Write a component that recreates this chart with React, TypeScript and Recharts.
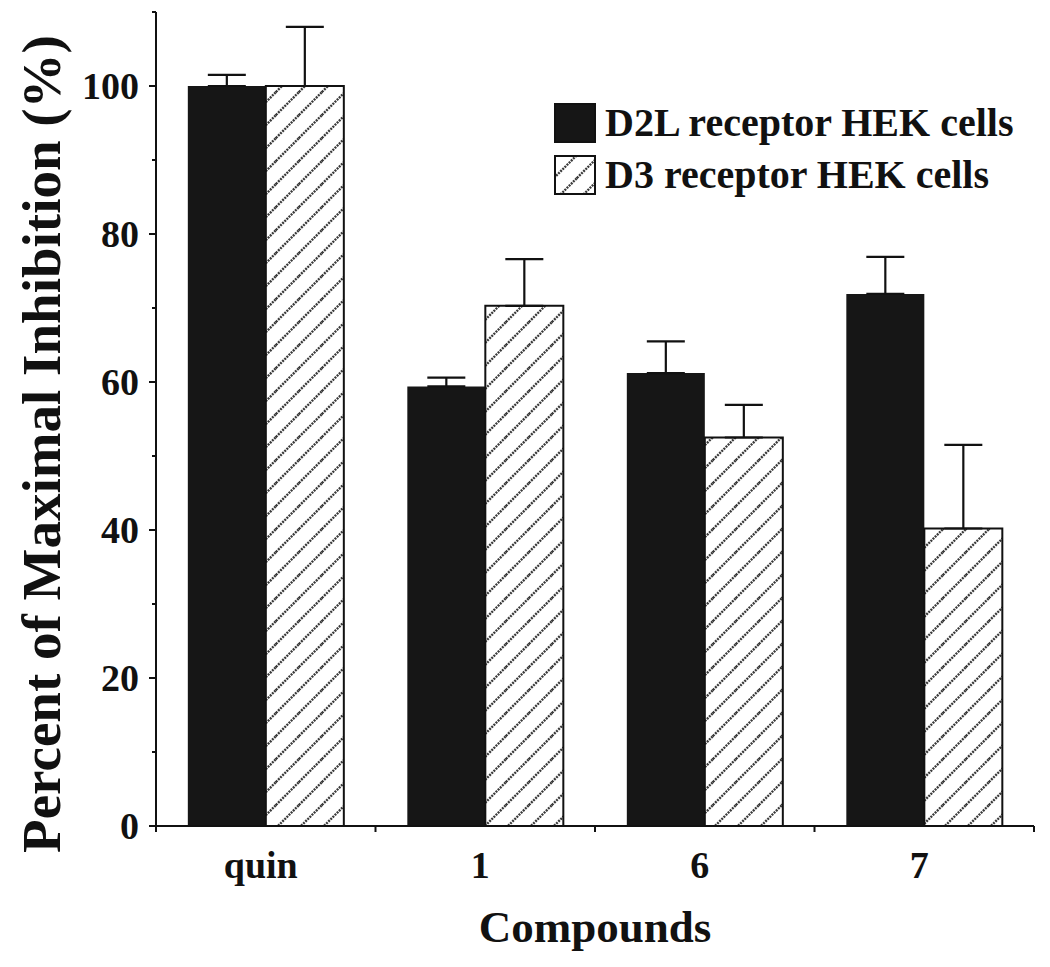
import React from 'react';
import { BarChart, Bar, XAxis, YAxis, ErrorBar } from 'recharts';

const categories = ['quin', '1', '6', '7'];
const d2lValues = [100, 59.4, 61.2, 71.9];
const d2lErrors = [1.5, 1.2, 4.3, 5.0];
const d3Values = [100, 70.3, 52.5, 40.2];
const d3Errors = [8.0, 6.3, 4.4, 11.3];
const seriesNames = ['D2L receptor HEK cells', 'D3 receptor HEK cells'];
const yTicks = [0, 10, 20, 30, 40, 50, 60, 70, 80, 90, 100, 110];

const data = categories.map((c, i) => ({
  name: c,
  d2l: d2lValues[i],
  d2lErr: [0, d2lErrors[i]],
  d3: d3Values[i],
  d3Err: [0, d3Errors[i]],
}));

const FONT = '"Liberation Serif", "Times New Roman", serif';
const BLACK = '#161616';

const YTick = (props: any) => {
  const { x, y, payload } = props;
  const v = payload.value;
  const major = v % 20 === 0;
  const len = major ? 7 : 4;
  return (
    <g>
      <line x1={x - len} y1={y} x2={x} y2={y} stroke="#111" strokeWidth={2} />
      {major && (
        <text x={x - 17} y={y} dy="0.35em" textAnchor="end" fontFamily={FONT} fontWeight="bold" fontSize={38} fill="#111">
          {v}
        </text>
      )}
    </g>
  );
};

const XTick = (props: any) => {
  const { x, y, payload, index } = props;
  const off = payload && typeof payload.offset === 'number' && payload.offset > 0 ? payload.offset : 878 / categories.length / 2;
  return (
    <g>
      <line x1={x - off} y1={y} x2={x - off} y2={y + 6} stroke="#111" strokeWidth={2} />
      {index === categories.length - 1 && (
        <line x1={x + off} y1={y} x2={x + off} y2={y + 6} stroke="#111" strokeWidth={2} />
      )}
      <text x={x - 5} y={y + 52} textAnchor="middle" fontFamily={FONT} fontWeight="bold" fontSize={38} fill="#111">
        {payload.value}
      </text>
    </g>
  );
};

const LegendBox = () => (
  <div style={{ position: 'absolute', left: 554, top: 97, fontFamily: FONT, fontWeight: 'bold', fontSize: 40, color: '#111', lineHeight: '52px' }}>
    {seriesNames.map((n, i) => (
      <div key={n} style={{ display: 'flex', alignItems: 'center', height: 52, whiteSpace: 'nowrap' }}>
        <svg width={42} height={40} style={{ marginRight: 9 }}>
          <rect x={1} y={1} width={40} height={38} fill={i === 0 ? BLACK : 'url(#hatch)'} stroke="#111" strokeWidth={2} />
        </svg>
        <span>{n}</span>
      </div>
    ))}
  </div>
);

export default function App() {
  return (
    <div style={{ position: 'absolute', left: 0, top: 0, width: 1050, height: 967, background: '#fff' }}>
      <svg width={0} height={0} style={{ position: 'absolute' }}>
        <defs>
          <pattern id="hatch" patternUnits="userSpaceOnUse" width={23} height={23}>
            <rect width={23} height={23} fill="#fff" />
            <g stroke="#3a3a3a" strokeWidth={2.4} strokeDasharray="2 1">
              <line x1={0} y1={23} x2={23} y2={0} />
              <line x1={-3} y1={3} x2={3} y2={-3} />
              <line x1={20} y1={26} x2={26} y2={20} />
            </g>
          </pattern>
        </defs>
      </svg>
      <BarChart
        width={1050}
        height={967}
        data={data}
        margin={{ top: 12, right: 16, left: 0, bottom: 0 }}
        barCategoryGap="14.5%"
        barGap={0}
      >
        <XAxis
          dataKey="name"
          height={141}
          tickSize={0}
          tickMargin={0}
          tickLine={false}
          tick={<XTick />}
          axisLine={{ stroke: '#111', strokeWidth: 2 }}
          interval={0}
          label={{ value: 'Compounds', position: 'insideBottom', offset: 25, style: { fontFamily: FONT, fontWeight: 'bold', fontSize: 45, fill: '#111' } }}
        />
        <YAxis
          width={156}
          domain={[0, 110]}
          ticks={yTicks}
          interval={0}
          tickSize={0}
          tickMargin={0}
          tickLine={false}
          tick={<YTick />}
          axisLine={{ stroke: '#111', strokeWidth: 2 }}
          label={{ value: 'Percent of Maximal Inhibition (%)', angle: -90, position: 'insideLeft', offset: 40, dy: 25, style: { fontFamily: FONT, fontWeight: 'bold', fontSize: 55, fill: '#111', textAnchor: 'middle' } }}
        />
        <Bar dataKey="d2l" name={seriesNames[0]} fill={BLACK} isAnimationActive={false}>
          <ErrorBar dataKey="d2lErr" width={19} stroke="#111" strokeWidth={2.2} direction="y" />
        </Bar>
        <Bar dataKey="d3" name={seriesNames[1]} fill="url(#hatch)" stroke="#111" strokeWidth={2} isAnimationActive={false}>
          <ErrorBar dataKey="d3Err" width={19} stroke="#111" strokeWidth={2.2} direction="y" />
        </Bar>
      </BarChart>
      <LegendBox />
    </div>
  );
}
